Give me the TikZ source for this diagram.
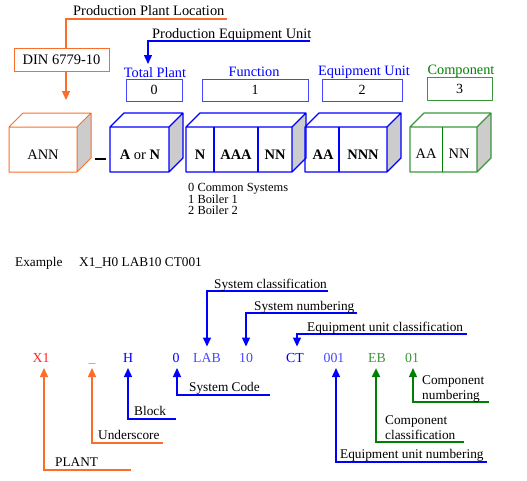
\documentclass[tikz,border=0pt]{standalone}
\usepackage{fontspec}
\setmainfont{Liberation Serif}
\usetikzlibrary{arrows.meta,calc}
\definecolor{orC}{RGB}{250,110,40}
\definecolor{blC}{RGB}{0,0,255}
\definecolor{blL}{RGB}{70,70,255}
\definecolor{grC}{RGB}{0,128,0}
\definecolor{grL}{RGB}{60,150,60}
\definecolor{rdC}{RGB}{255,40,40}
\definecolor{sideC}{RGB}{204,204,204}
\tikzset{
  lbl/.style={font=\fontsize{13.3}{15}\selectfont, inner sep=0pt, anchor=base west},
  biglbl/.style={font=\fontsize{14.4}{16}\selectfont, inner sep=0pt, anchor=base west},
  code/.style={font=\fontsize{13.8}{15}\selectfont, inner xsep=0pt, inner ysep=0pt,
    text height=9.5pt, text depth=0pt, outer ysep=6pt, anchor=base},
  arr/.style={-{Triangle[width=8pt,length=9pt]}},
  conn/.style={line width=1.4pt},
  numbox/.style={draw, line width=1pt, minimum height=22pt, inner sep=0pt,
    font=\fontsize{14}{16}\selectfont, text=black},
  toplbl/.style={font=\fontsize{14.3}{16}\selectfont, inner sep=0pt},
  cubetxt/.style={font=\fontsize{14.5}{16}\selectfont, inner sep=0pt},
}
\newcommand{\mycube}[4]{%
  \fill[sideC] (#2,127) -- (#2+14,113) -- (#2+14,158) -- (#2,172) -- cycle;
  \draw[#3, line width=#4, line join=round] (#1,127) rectangle (#2,172)
    (#1,127) -- (#1+14,113) -- (#2+14,113) -- (#2+14,158) -- (#2,172)
    (#2,127) -- (#2+14,113);
}
\begin{document}
\begin{tikzpicture}[x=1pt,y=-1pt]
\useasboundingbox (0,0) rectangle (527,480);

% ---------- top: location ----------
\node[biglbl] (ppl) at (73,15) {Production Plant Location};
\coordinate (pplR) at (227,19);
\coordinate (pplL) at (66,19);
\node[draw=orC, line width=1pt, minimum width=95pt, minimum height=23pt, inner sep=0pt,
  font=\fontsize{14.5}{16}\selectfont] (din) at (61.5,59.5) {DIN 6779-10};
\draw[orC, line width=1.2pt] (pplR) -- (pplL) -- (pplL |- din.north);
\coordinate (anntip) at (66,100);
\draw[orC, line width=1.2pt, arr] (pplL |- din.south) -- (anntip);

% ---------- top: equipment unit ----------
\node[biglbl] (peu) at (152,38.5) {Production Equipment Unit};
\coordinate (peuR) at (310,41);
\coordinate (peuL) at (148,41);
\coordinate (tptip) at (148,64);
\draw[blC, line width=1.4pt, arr] (peuR) -- (peuL) -- (tptip);

\node[toplbl, text=blC] (tp) at (155,73) {Total Plant};
\node[toplbl, text=blC] (fn) at (254,72) {Function};
\node[toplbl, text=blC] (eu) at (364,72) {Equipment Unit};
\node[toplbl, text=grC] (cp) at (461,71) {Component};

\node[numbox, draw=blL, minimum width=56pt] (b0) at (154,90) {0};
\node[numbox, draw=blL, minimum width=106pt] (b1) at (255,90) {1};
\node[numbox, draw=blL, minimum width=80pt] (b2) at (362,90) {2};
\node[numbox, draw=grL, minimum width=65pt, minimum height=23pt] (b3) at (459.5,88.5) {3};

% ---------- cubes ----------
\mycube{9}{77}{orC}{1pt}
\mycube{110}{169}{blC}{1.3pt}
\mycube{186}{292}{blC}{1.3pt}
\mycube{305}{387}{blC}{1.3pt}
\mycube{410}{477}{grL}{1.1pt}
\draw[blC, line width=1.1pt] (214,127) -- (214,172) (258,127) -- (258,172) (339,127) -- (339,172);
\draw[grC, line width=1pt] (442,127) -- (442,172);
\draw[line width=1.8pt] (95,159) -- (106,159);

\node[cubetxt] (ann) at (43,155) {ANN};
\node[cubetxt] (aon) at (140,155) {\textbf{A} or \textbf{N}};
\node[cubetxt] (fN) at (200,155) {\textbf{N}};
\node[cubetxt] (fAAA) at (236,155) {\textbf{AAA}};
\node[cubetxt] (fNN) at (275,155) {\textbf{NN}};
\node[cubetxt] (eAA) at (323,155) {\textbf{AA}};
\node[cubetxt] (eNNN) at (363,155) {\textbf{NNN}};
\node[cubetxt] (cAA) at (426,154) {AA};
\node[cubetxt] (cNN) at (459,154) {NN};

\node[anchor=north west, inner sep=0pt, align=left, font=\fontsize{12.4}{11}\selectfont]
  (sys) at (188,183) {0 Common Systems\\1 Boiler 1\\2 Boiler 2};

% ---------- example ----------
\node[lbl] (ex) at (15,266) {Example};
\node[lbl] (excode) at (79,266) {X1\_H0 LAB10 CT001};

\node[code, text=rdC] (x1) at (41,362) {X1};
\node[code, text=orC] (us) at (92,362) {\_};
\node[code, text=blC] (h) at (128,362) {H};
\node[code, text=blC] (zero) at (176,362) {0};
\node[code, text=blL] (lab) at (207,362) {LAB};
\node[code, text=blL] (ten) at (246,362) {10};
\node[code, text=blC] (ct) at (295,362) {CT};
\node[code, text=blL] (n001) at (334,362) {001};
\node[code, text=grL] (eb) at (377,362) {EB};
\node[code, text=grL] (c01) at (412,362) {01};

% below
\coordinate (plantR) at (131,470);
\coordinate (plantV) at (44,470);
\draw[orC, conn, arr] (plantR) -- (plantV) -- (plantV |- x1.south);
\node[lbl] (tplant) at (55,466.5) {PLANT};

\coordinate (usR) at (163,443);
\draw[orC, conn, arr] (usR) -| (us.south);
\node[lbl] (tus) at (98,439.5) {Underscore};

\coordinate (blockR) at (176,419);
\draw[blC, conn, arr] (blockR) -| (h.south);
\node[lbl] (tblock) at (134,415.5) {Block};

\coordinate (scodeR) at (270,395);
\coordinate (scodeV) at (177,395);
\draw[blC, conn, arr] (scodeR) -- (scodeV) -- (scodeV |- zero.south);
\node[lbl] (tscode) at (189,391.5) {System Code};

\coordinate (eunR) at (487,462);
\coordinate (eunV) at (336,462);
\draw[blC, conn, arr] (eunR) -- (eunV) -- (eunV |- n001.south);
\node[lbl] (teun) at (340,458.5) {Equipment unit numbering};

\coordinate (ccR) at (464,442);
\coordinate (ccV) at (376,442);
\draw[grC, line width=2.5pt, arr] (ccR) -- (ccV) -- (ccV |- eb.south);
\node[lbl] (tcc1) at (385,424) {Component};
\node[lbl] (tcc2) at (385,439.5) {classification};

\coordinate (cnR) at (489,402);
\coordinate (cnV) at (413,402);
\draw[grC, conn, arr] (cnR) -- (cnV) -- (cnV |- c01.south);
\node[lbl] (tcn1) at (422,384) {Component};
\node[lbl] (tcn2) at (422,399.5) {numbering};

% above
\coordinate (sclR) at (328,291);
\draw[blC, conn, arr] (sclR) -| (lab.north);
\node[lbl] (tscl) at (214,288.5) {System classification};

\coordinate (snR) at (357,313);
\draw[blC, conn, arr] (snR) -| (ten.north);
\node[lbl] (tsn) at (254,310.5) {System numbering};

\coordinate (eucR) at (467,334);
\coordinate (eucV) at (297,334);
\draw[blC, conn, arr] (eucR) -- (eucV) -- (eucV |- ct.north);
\node[lbl] (teuc) at (307,331.5) {Equipment unit classification};
\end{tikzpicture}
\end{document}
